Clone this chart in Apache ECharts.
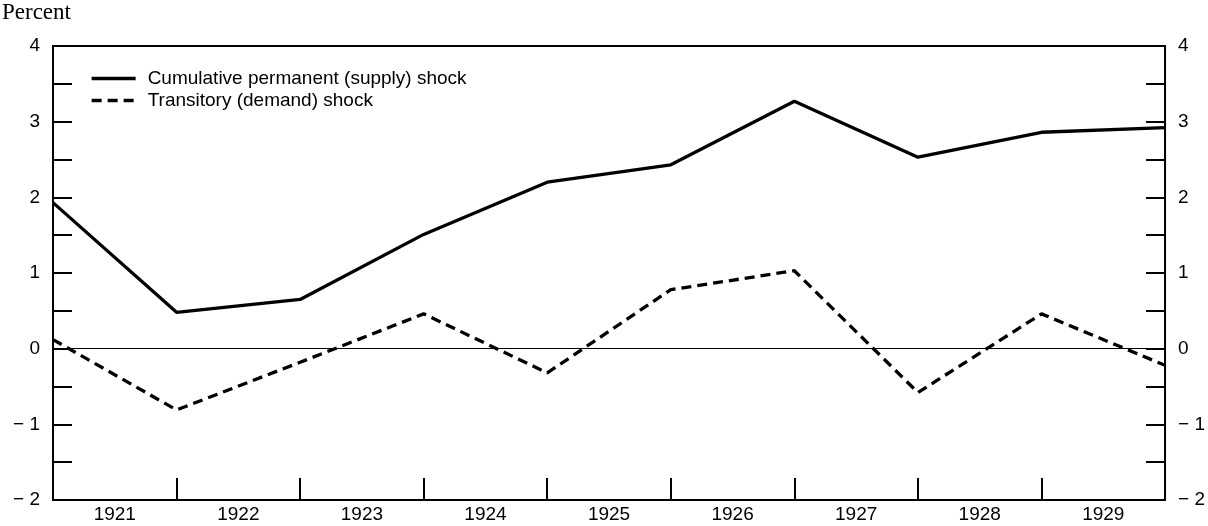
<!DOCTYPE html>
<html>
<head>
<meta charset="utf-8">
<script src="https://cdn.jsdelivr.net/npm/echarts@6/dist/echarts.min.js"></script>
<style>
  html, body { margin: 0; padding: 0; background: #fff; }
  #chart { width: 1208px; height: 526px; }
</style>
</head>
<body>
<div id="chart"></div>
<script>
const years = ["1921", "1922", "1923", "1924", "1925", "1926", "1927", "1928", "1929"];
// one value per year boundary: start of 1921 ... end of 1929
const permanentShock = [1.93, 0.48, 0.65, 1.51, 2.2, 2.43, 3.27, 2.53, 2.86, 2.92];
const transitoryShock = [0.12, -0.81, -0.18, 0.46, -0.32, 0.78, 1.03, -0.58, 0.46, -0.22];
const yTicks = [-2, -1, 0, 1, 2, 3, 4];

const font = "Liberation Sans, Arial, sans-serif";

function yLabel(v) {
  if (!Number.isInteger(v)) return "";
  return v < 0 ? "\u2212 " + -v : String(v);
}

const yAxisBase = {
  type: "value",
  min: yTicks[0],
  max: yTicks[yTicks.length - 1],
  interval: 0.5,
  axisLine: { show: true, onZero: false, lineStyle: { color: "#000", width: 2 } },
  axisTick: { show: true, inside: true, length: 19, lineStyle: { color: "#000", width: 2 } },
  axisLabel: { formatter: yLabel, color: "#000", fontSize: 19, fontFamily: font, margin: 13 },
  splitLine: { show: false },
};

const chart = echarts.init(document.getElementById("chart"));
const option = {
  animation: false,
  backgroundColor: "#fff",
  graphic: [
    {
      type: "text",
      left: 2,
      top: 1,
      style: { text: "Percent", font: "23px Liberation Serif, Times New Roman, serif", fill: "#000" },
    },
  ],
  legend: {
    data: ["Cumulative permanent (supply) shock", "Transitory (demand) shock"],
    orient: "vertical",
    left: 90,
    top: 69,
    padding: 0,
    itemWidth: 44,
    itemHeight: 14,
    itemGap: 3,
    itemStyle: { opacity: 0 },
    lineStyle: { width: 3.3 },
    textStyle: { color: "#000", fontSize: 19, fontFamily: font, padding: [0, 0, 0, 7] },
  },
  grid: {
    left: 53,
    right: 40,
    top: 46,
    bottom: 26,
    show: true,
    borderColor: "#000",
    borderWidth: 2,
  },
  xAxis: [
    {
      type: "value",
      min: 0,
      max: years.length,
      interval: 1,
      axisLine: { show: true, onZero: false, lineStyle: { color: "#000", width: 2 } },
      axisTick: { show: true, inside: true, length: 22, lineStyle: { color: "#000", width: 2 } },
      axisLabel: { show: false },
      splitLine: { show: false },
    },
    {
      type: "category",
      data: years,
      boundaryGap: true,
      position: "bottom",
      axisLine: { show: false },
      axisTick: { show: false },
      axisLabel: { color: "#000", fontSize: 19, fontFamily: font, margin: 5 },
    },
  ],
  yAxis: [
    Object.assign({}, yAxisBase, { position: "left" }),
    Object.assign({}, yAxisBase, { position: "right" }),
  ],
  series: [
    {
      name: "Cumulative permanent (supply) shock",
      type: "line",
      xAxisIndex: 0,
      yAxisIndex: 0,
      symbol: "none",
      color: "#000",
      lineStyle: { color: "#000", width: 3.3 },
      data: permanentShock.map((v, i) => [i, v]),
      markLine: {
        silent: true,
        symbol: "none",
        label: { show: false },
        lineStyle: { color: "#000", width: 1, type: "solid" },
        data: [{ yAxis: 0 }],
      },
    },
    {
      name: "Transitory (demand) shock",
      type: "line",
      xAxisIndex: 0,
      yAxisIndex: 0,
      symbol: "none",
      color: "#000",
      lineStyle: { color: "#000", width: 3.3, type: [10, 6] },
      data: transitoryShock.map((v, i) => [i, v]),
    },
  ],
};
chart.setOption(option);
</script>
</body>
</html>
